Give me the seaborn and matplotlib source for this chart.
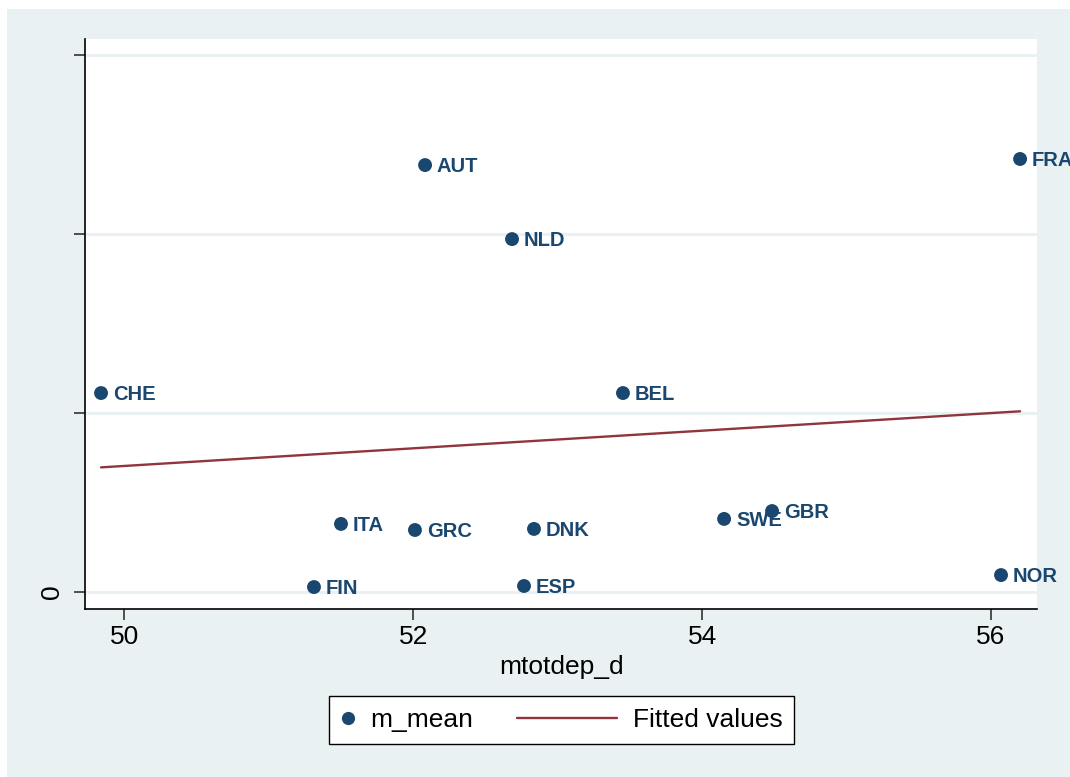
import numpy as np
import pandas as pd
import matplotlib
matplotlib.use("Agg")
import matplotlib.pyplot as plt
import seaborn as sns
from matplotlib.lines import Line2D
from matplotlib.legend_handler import HandlerLine2D
from matplotlib.patches import Rectangle

# ---- data ----
countries = ["CHE", "AUT", "NLD", "FRA", "BEL", "ITA", "GRC", "DNK",
             "SWE", "GBR", "FIN", "ESP", "NOR"]
mtotdep_d = [49.839, 52.082, 52.684, 56.201, 53.452, 51.500, 52.012, 52.836,
             54.152, 54.484, 51.313, 52.767, 56.069]
m_mean = [1.111, 2.386, 1.972, 2.420, 1.111, 0.379, 0.345, 0.351,
          0.407, 0.451, 0.026, 0.032, 0.093]
x_ticks = [50, 52, 54, 56]
y_ticks = [0, 1, 2, 3]
y_ticklabels = ["0", "", "", ""]

df = pd.DataFrame({"country": countries, "mtotdep_d": mtotdep_d, "m_mean": m_mean})

NAVY = "#1a476f"
MAROON = "#90353b"
BG = "#eaf1f3"

sns.set_style("white")
plt.rcParams["font.family"] = ["Liberation Sans", "DejaVu Sans"]
plt.rcParams["text.color"] = "black"
plt.rcParams["axes.labelcolor"] = "black"

W, H = 1070, 777
fig = plt.figure(figsize=(W / 100, H / 100), dpi=100, facecolor="white")
fig.patches.append(Rectangle((7 / W, 0), 1 - 7 / W, (H - 9) / H,
                             transform=fig.transFigure, facecolor=BG,
                             edgecolor="none", zorder=-10))

left, right, top, bottom = 85.3, 1037, 39, 608.5
ax = fig.add_axes([left / W, 1 - bottom / H, (right - left) / W, (bottom - top) / H])
ax.set_facecolor("white")

for yt in y_ticks:
    ax.axhline(yt, color=BG, lw=2.2, zorder=0.5)

sns.regplot(data=df, x="mtotdep_d", y="m_mean", scatter=False, ci=None,
            truncate=True, color=MAROON, line_kws={"lw": 1.7, "zorder": 2}, ax=ax)
sns.scatterplot(data=df, x="mtotdep_d", y="m_mean", color=NAVY, s=100,
                edgecolor="none", linewidth=0, zorder=3, ax=ax, legend=False)

for c, xv, yv in zip(countries, mtotdep_d, m_mean):
    ax.annotate(c, (xv, yv), xytext=(8.5, -1), textcoords="offset points",
                ha="left", va="center", color=NAVY, fontsize=14.5,
                fontweight="bold", annotation_clip=False, zorder=4)

ax.set_xlim(49.730, 56.318)
ax.set_ylim(-0.094, 3.091)
ax.set_xticks(x_ticks)
ax.set_xticklabels([str(t) for t in x_ticks])
ax.set_yticks(y_ticks)
ax.set_yticklabels(y_ticklabels, rotation=90, va="center")
ax.tick_params(axis="both", direction="out", length=8, width=1.2,
               color="#333333", labelsize=19, labelcolor="black",
               left=True, bottom=True)
ax.tick_params(axis="x", pad=4)
ax.tick_params(axis="y", pad=7)
ax.set_xlabel("mtotdep_d", fontsize=19, labelpad=4, color="black")
ax.set_ylabel("")

sns.despine(ax=ax, top=True, right=True)
for s in ["left", "bottom"]:
    ax.spines[s].set_color("black")
    ax.spines[s].set_linewidth(1.2)


class HandlerLeftExt(HandlerLine2D):
    def get_xdata(self, legend, xdescent, ydescent, width, height, fontsize):
        ext = 3.26 * fontsize
        return ([-xdescent - ext, -xdescent + width], [-xdescent + 0.5 * width])


h_pts = Line2D([], [], linestyle="none", marker="o", markersize=9.5,
               markerfacecolor=NAVY, markeredgecolor="none")
h_fit = Line2D([], [], color=MAROON, lw=1.7)
leg = fig.legend([h_pts, h_fit], ["m_mean", "Fitted values"], ncol=2,
                 loc="center", bbox_to_anchor=(561.5 / W, 1 - 720 / H),
                 fontsize=19, frameon=True, fancybox=False,
                 handlelength=0.53, handletextpad=0.6, borderpad=0.45,
                 columnspacing=4.9, borderaxespad=0, labelcolor="black",
                 handler_map={h_fit: HandlerLeftExt()})
leg.get_frame().set_edgecolor("black")
leg.get_frame().set_linewidth(1.0)
leg.get_frame().set_facecolor("white")
leg.get_frame().set_alpha(1)

fig.savefig("out.png", dpi=100, facecolor=fig.get_facecolor())
